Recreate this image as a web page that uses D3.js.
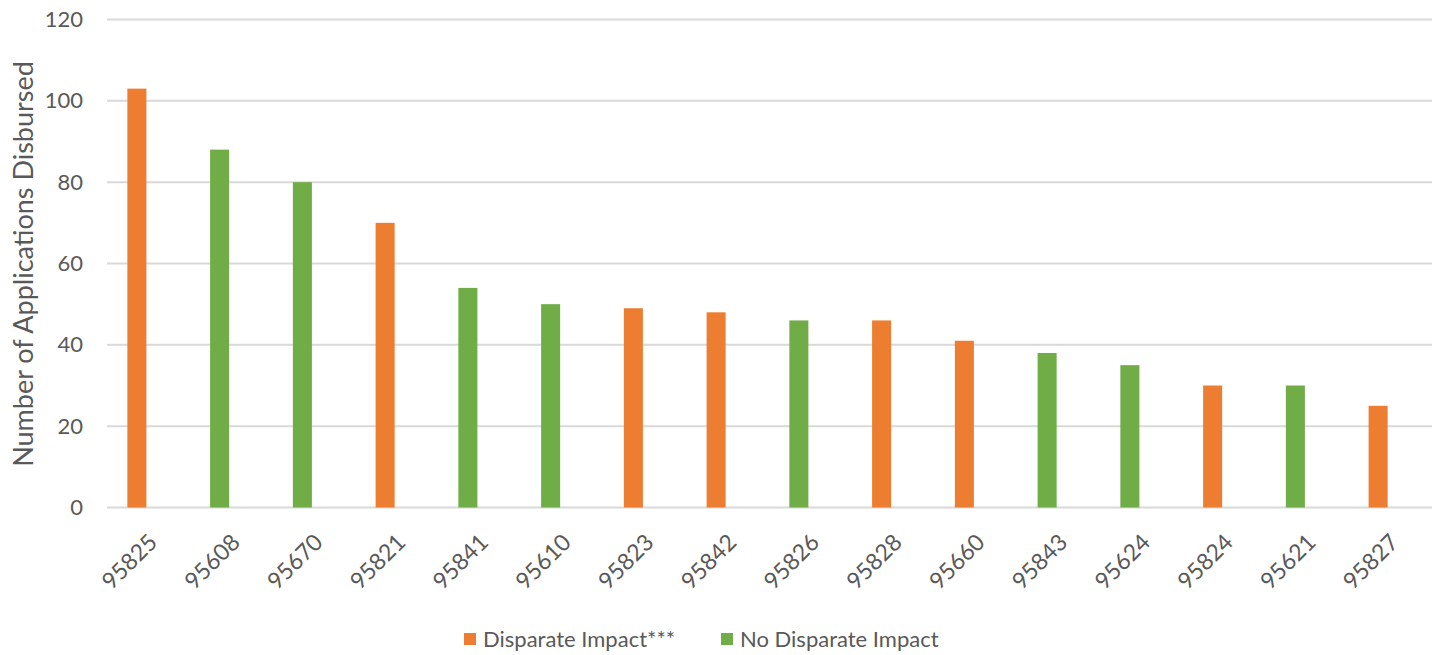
<!DOCTYPE html>
<html>
<head>
<meta charset="utf-8">
<script src="https://cdn.jsdelivr.net/npm/d3@7"></script>
<style>
  body { margin: 0; background: #fff; }
  text { font-family: Lato, "Open Sans", sans-serif; fill: #595959; }
</style>
</head>
<body>
<svg width="1439" height="655"></svg>
<script>
// zip codes, sorted by number of applications disbursed
var zips = ["95825", "95608", "95670", "95821", "95841", "95610", "95823", "95842",
  "95826", "95828", "95660", "95843", "95624", "95824", "95621", "95827"];
var counts = [103, 88, 80, 70, 54, 50, 49, 48, 46, 46, 41, 38, 35, 30, 30, 25];
var impact = ["Disparate Impact***", "No Disparate Impact", "No Disparate Impact", "Disparate Impact***",
  "No Disparate Impact", "No Disparate Impact", "Disparate Impact***", "Disparate Impact***",
  "No Disparate Impact", "Disparate Impact***", "Disparate Impact***", "No Disparate Impact",
  "No Disparate Impact", "Disparate Impact***", "No Disparate Impact", "Disparate Impact***"];
var groups = ["Disparate Impact***", "No Disparate Impact"];
var yTicks = [0, 20, 40, 60, 80, 100, 120];

var svg = d3.select("svg");

var color = d3.scaleOrdinal().domain(groups).range(["#ED7D31", "#70AD47"]);

var x = d3.scaleBand().domain(zips).range([95.5, 1419.5]).paddingInner(0.77).paddingOuter(0.385);
var y = d3.scaleLinear().domain([0, 120]).range([507.5, 19.5]);

// gridlines
svg.append("g")
  .selectAll("line")
  .data(yTicks)
  .enter()
  .append("line")
  .attr("x1", 107)
  .attr("x2", 1432)
  .attr("y1", function(d) { return y(d); })
  .attr("y2", function(d) { return y(d); })
  .attr("stroke", "#d9d9d9")
  .attr("stroke-width", 2);

// y labels
var yAxis = svg.append("g")
  .attr("transform", "translate(83,0)")
  .call(d3.axisLeft(y).tickValues(yTicks).tickSize(0).tickPadding(0));
yAxis.select(".domain").remove();
yAxis.selectAll("text")
  .style("font-size", "22px")
  .attr("fill", "#595959")
  .style("font-family", "Lato, 'Open Sans', sans-serif");

svg.append("text")
  .attr("transform", "translate(33,264) rotate(-90)")
  .attr("text-anchor", "middle")
  .style("font-size", "27px")
  .text("Number of Applications Disbursed");

// bars
svg.append("g")
  .selectAll("rect")
  .data(zips)
  .enter()
  .append("rect")
  .attr("x", function(d) { return x(d); })
  .attr("width", x.bandwidth())
  .attr("y", function(d, i) { return y(counts[i]); })
  .attr("height", function(d, i) { return y(0) - y(counts[i]); })
  .attr("fill", function(d, i) { return color(impact[i]); });

// x labels
var xAxis = svg.append("g")
  .attr("transform", "translate(0," + 538 + ")")
  .call(d3.axisBottom(x).tickSize(0).tickPadding(0));
xAxis.select(".domain").remove();
xAxis.selectAll("text")
  .style("font-size", "23px")
  .attr("fill", "#595959")
  .style("font-family", "Lato, 'Open Sans', sans-serif")
  .attr("text-anchor", "end")
  .attr("dy", "0.35em")
  .attr("transform", "translate(16,0) rotate(-45)");

// legend
var legendX = [464, 721];
var legend = svg.append("g")
  .selectAll("g")
  .data(groups)
  .enter()
  .append("g")
  .attr("transform", function(d, i) { return "translate(" + legendX[i] + ",639)"; });
legend.append("rect")
  .attr("x", 0)
  .attr("y", -6)
  .attr("width", 12)
  .attr("height", 12)
  .attr("fill", function(d) { return color(d); });
legend.append("text")
  .attr("x", 19)
  .attr("dy", "0.35em")
  .style("font-size", "22px")
  .text(function(d) { return d; });
</script>
</body>
</html>
